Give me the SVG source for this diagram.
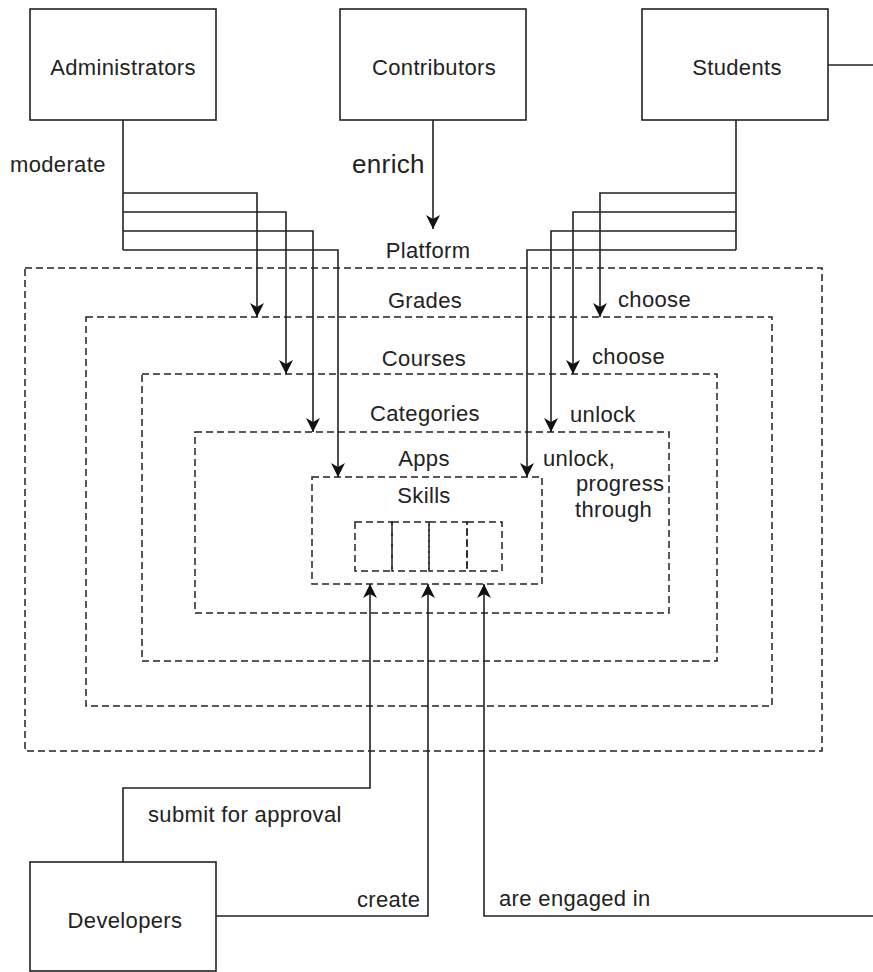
<svg xmlns="http://www.w3.org/2000/svg" width="873" height="972" viewBox="0 0 873 972">
  <style>
    text { font-family: "Liberation Sans", Arial, sans-serif; font-size: 22px; fill: #222; letter-spacing: 0.35px; }
    .node { fill: #fff; stroke: #222; stroke-width: 1.6; }
    .box { fill: none; stroke: #222; stroke-width: 1.5; stroke-dasharray: 7 4; }
    .conn { fill: none; stroke: #222; stroke-width: 1.6; }
    .arr { marker-end: url(#ah); }
    .mid { text-anchor: middle; }
  </style>
  <defs>
    <marker id="ah" markerUnits="userSpaceOnUse" markerWidth="16" markerHeight="16" viewBox="0 0 16 16" refX="15" refY="8" orient="auto">
      <path d="M1,1 L15,8 L1,15 L5,8 z" fill="#111"/>
    </marker>
  </defs>
  <rect width="873" height="972" fill="#fff"/>

  <g id="platform">
    <rect class="box" x="25" y="268" width="797" height="483"/>
    <text class="mid" x="428" y="258">Platform</text>
  </g>
  <g id="grades">
    <rect class="box" x="86" y="317" width="686" height="389"/>
    <text class="mid" x="425" y="308">Grades</text>
  </g>
  <g id="courses">
    <rect class="box" x="142" y="374" width="575" height="287"/>
    <text class="mid" x="424" y="366">Courses</text>
  </g>
  <g id="categories">
    <rect class="box" x="195" y="432" width="474" height="181"/>
    <text class="mid" x="425" y="421">Categories</text>
  </g>
  <g id="apps">
    <text class="mid" x="424" y="466">Apps</text>
  </g>
  <g id="skills">
    <rect class="box" x="312" y="477" width="230" height="107"/>
    <text class="mid" x="424" y="503">Skills</text>
    <rect class="box" x="355" y="522" width="37" height="49"/>
    <rect class="box" x="392" y="522" width="37" height="49"/>
    <rect class="box" x="429" y="522" width="38" height="49"/>
    <rect class="box" x="467" y="522" width="35" height="49"/>
  </g>

  <g id="administrators">
    <rect class="node" x="30" y="9" width="186" height="111"/>
    <text class="mid" x="123" y="75">Administrators</text>
  </g>
  <g id="contributors">
    <rect class="node" x="340" y="9" width="186" height="111"/>
    <text class="mid" x="434" y="75">Contributors</text>
  </g>
  <g id="students">
    <rect class="node" x="642" y="9" width="186" height="111"/>
    <text class="mid" x="737" y="75">Students</text>
  </g>
  <g id="developers">
    <rect class="node" x="30" y="862" width="186" height="109"/>
    <text class="mid" x="125" y="928">Developers</text>
  </g>

  <g id="connectors">
    <!-- Administrators moderate -->
    <path class="conn" d="M123,120 V250"/>
    <path class="conn arr" d="M123,193 H257 V317"/>
    <path class="conn arr" d="M123,212 H286 V374"/>
    <path class="conn arr" d="M123,231 H313 V432"/>
    <path class="conn arr" d="M123,250 H338 V477"/>
    <text x="10" y="172">moderate</text>

    <!-- Contributors enrich -->
    <path class="conn arr" d="M433,120 V229"/>
    <text x="352" y="173" style="font-size:26px">enrich</text>

    <!-- Students -->
    <path class="conn" d="M736,120 V250"/>
    <path class="conn arr" d="M736,193 H600 V317"/>
    <path class="conn arr" d="M736,212 H573 V374"/>
    <path class="conn arr" d="M736,231 H551 V432"/>
    <path class="conn arr" d="M736,250 H527 V477"/>
    <path class="conn" d="M828,65 H873"/>
    <text x="618" y="307">choose</text>
    <text x="592" y="364">choose</text>
    <text x="570" y="422">unlock</text>
    <text x="543" y="466">unlock,</text>
    <text x="576" y="491">progress</text>
    <text x="575" y="517">through</text>

    <!-- Developers -->
    <path class="conn arr" d="M123,862 V788 H370 V584"/>
    <text x="148" y="822">submit for approval</text>
    <path class="conn arr" d="M216,916 H428 V584"/>
    <text x="357" y="907">create</text>
    <path class="conn arr" d="M873,916 H484 V584"/>
    <text x="499" y="906">are engaged in</text>
  </g>
</svg>
